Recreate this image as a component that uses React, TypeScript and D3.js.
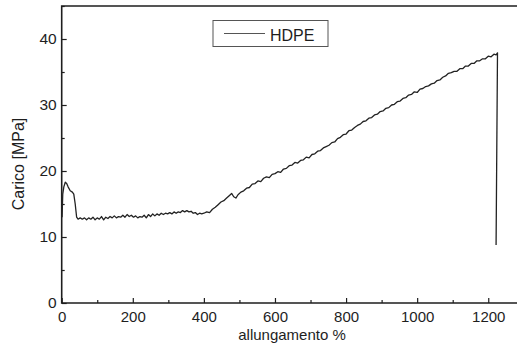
import React, { useEffect, useRef } from "react";
import * as d3 from "d3";

// Tensile curve of HDPE.
const strainPct = [
  1, 3, 6, 10, 14, 18, 24, 30, 34, 38, 42, 46, 52, 58, 64, 70, 76, 82, 88, 94,
  100, 106, 112, 118, 124, 130, 136, 142, 148, 154, 160, 166, 172, 178, 184, 190, 196, 202, 208, 214,
  220, 226, 232, 238, 244, 250, 256, 262, 268, 274, 280, 286, 292, 298, 304, 310, 316, 322, 328, 334,
  340, 346, 352, 358, 364, 370, 376, 382, 388, 394,
  400, 408, 416, 424, 432, 440, 448, 456, 464, 472, 478, 484, 490, 496, 504, 512, 520, 528, 536, 544,
  552, 560, 568, 576, 584, 592, 600, 608, 616, 624, 632, 640, 648, 656, 664, 672, 680, 688, 696, 704,
  712, 720, 728, 736, 744, 752, 760, 768, 776, 784, 792, 800, 808, 816, 824, 832, 840, 848, 856, 864,
  872, 880, 888, 896, 904, 912, 920, 928, 936, 944, 952, 960, 968, 976, 984, 992, 1000, 1008, 1016, 1024,
  1032, 1040, 1048, 1056, 1064, 1072, 1080, 1088, 1096, 1104, 1112, 1120, 1128, 1136, 1144, 1152, 1160, 1168, 1176, 1184,
  1192, 1200, 1208, 1216, 1222, 1226, 1222,
];
const loadMPa = [
  13.0, 16.5, 17.6, 18.3, 18.1, 17.6, 17.0, 16.8, 16.5, 15.0, 13.0, 12.7, 12.9, 12.7, 12.9, 12.6, 12.9, 12.7, 13.0, 12.6,
  12.9, 12.7, 13.1, 12.6, 13.0, 12.8, 13.1, 12.9, 13.2, 12.9, 13.1, 13.0, 13.3, 13.0, 13.4, 13.1, 13.3, 13.0, 13.2, 12.9,
  13.1, 13.0, 13.3, 12.9, 13.4, 13.1, 13.5, 13.2, 13.5, 13.3, 13.6, 13.4, 13.6, 13.5, 13.7, 13.5, 13.8, 13.6, 13.8, 13.7,
  14.0, 13.8, 14.0, 13.8, 13.9, 13.6, 13.7, 13.4, 13.6, 13.5,
  13.6, 13.8, 13.7, 14.2, 14.5, 14.9, 15.3, 15.5, 15.9, 16.3, 16.6, 16.1, 15.9, 16.4, 16.8, 17.0, 17.4, 17.5, 18.0, 18.1,
  18.5, 18.4, 18.9, 19.1, 19.0, 19.5, 19.6, 19.9, 19.8, 20.3, 20.4, 20.8, 20.9, 21.3, 21.2, 21.6, 21.7, 22.1, 22.0, 22.5,
  22.6, 23.0, 23.1, 23.5, 23.7, 23.9, 24.3, 24.4, 24.9, 25.1, 25.5, 25.6, 26.1, 26.2, 26.6, 26.9, 27.1, 27.5, 27.6, 28.0,
  28.1, 28.5, 28.6, 29.0, 29.1, 29.5, 29.6, 30.0, 30.1, 30.5, 30.6, 31.0, 31.1, 31.5, 31.6, 32.0, 31.9, 32.4, 32.5, 32.8,
  32.9, 33.2, 33.3, 33.7, 33.8, 34.2, 34.4, 34.8, 34.9, 35.1, 35.1, 35.5, 35.5, 35.9, 35.9, 36.3, 36.3, 36.7, 36.7, 37.0,
  37.0, 37.4, 37.3, 37.7, 37.6, 37.9, 8.8,
];

const xMajorTicks = [0, 200, 400, 600, 800, 1000, 1200];
const xMinorTicks = [100, 300, 500, 700, 900, 1100, 1300];
const yMajorTicks = [0, 10, 20, 30, 40];
const yMinorTicks = [5, 15, 25, 35, 45];

const seriesName = "HDPE";

export default function App() {
  const svgRef = useRef<SVGSVGElement>(null);

  useEffect(() => {
    if (!svgRef.current) return;
    const svg = d3.select(svgRef.current);
    svg.selectAll("*").remove();

    const W = 517, H = 349;
    const ink = "#1e1e1e";
    const font = "'Liberation Sans', Arial, Helvetica, sans-serif";

    svg.append("rect").attr("width", W).attr("height", H).attr("fill", "#ffffff");

    const x = d3.scaleLinear().domain([0, 1300]).range([61.7, 523.8]);
    const y = d3.scaleLinear().domain([0, 45]).range([303, 6]);

    // Minor ticks (inward, no labels)
    svg.append("g").attr("transform", `translate(0,${y(0)})`)
      .call(d3.axisBottom(x).tickValues(xMinorTicks).tickSize(-3).tickFormat(() => ""))
      .call(g => g.select(".domain").remove())
      .selectAll("line").attr("stroke", ink).attr("stroke-width", 1.2);
    svg.append("g").attr("transform", `translate(${x(0)},0)`)
      .call(d3.axisLeft(y).tickValues(yMinorTicks).tickSize(-3).tickFormat(() => ""))
      .call(g => g.select(".domain").remove())
      .selectAll("line").attr("stroke", ink).attr("stroke-width", 1.2);

    // Major ticks with labels
    const xAxis = svg.append("g").attr("transform", `translate(0,${y(0)})`)
      .call(d3.axisBottom(x).tickValues(xMajorTicks).tickSize(-5).tickPadding(8.5).tickFormat(d3.format("d")));
    xAxis.select(".domain").remove();
    xAxis.selectAll("line").attr("stroke", ink).attr("stroke-width", 1.2);
    xAxis.selectAll("text").attr("fill", ink).style("font-family", font).style("font-size", "15px");

    const yAxis = svg.append("g").attr("transform", `translate(${x(0)},0)`)
      .call(d3.axisLeft(y).tickValues(yMajorTicks).tickSize(-5).tickPadding(5).tickFormat(d3.format("d")));
    yAxis.select(".domain").remove();
    yAxis.selectAll("line").attr("stroke", ink).attr("stroke-width", 1.2);
    yAxis.selectAll("text").attr("fill", ink).style("font-family", font).style("font-size", "15.5px");

    // Frame (right edge falls outside the scan)
    const frame = d3.path();
    frame.moveTo(x(1300), y(45));
    frame.lineTo(x(0), y(45));
    frame.lineTo(x(0), y(0));
    frame.lineTo(x(1300), y(0));
    svg.append("path").attr("d", frame.toString()).attr("fill", "none")
      .attr("stroke", ink).attr("stroke-width", 1.6);

    // Curve
    const pts = strainPct.map((s, i) => [s, loadMPa[i]] as [number, number]);
    const line = d3.line<[number, number]>().x(d => x(d[0])).y(d => y(d[1]));
    svg.append("path").datum(pts).attr("d", line).attr("fill", "none")
      .attr("stroke", "#222").attr("stroke-width", 1.3).attr("stroke-linejoin", "round");

    // Legend
    svg.append("rect").attr("x", 213).attr("y", 20.5).attr("width", 115).attr("height", 26)
      .attr("fill", "none").attr("stroke", "#555").attr("stroke-width", 1);
    svg.append("line").attr("x1", 224).attr("x2", 265).attr("y1", 33.5).attr("y2", 33.5)
      .attr("stroke", "#555").attr("stroke-width", 1);
    svg.append("text").attr("x", 270).attr("y", 41).attr("fill", ink)
      .style("font-family", font).style("font-size", "16px").text(seriesName);

    // Axis titles
    svg.append("text").attr("x", 292).attr("y", 339.5).attr("text-anchor", "middle").attr("fill", ink)
      .style("font-family", font).style("font-size", "15px").text("allungamento %");
    svg.append("text").attr("transform", "translate(24,164) rotate(-90)").attr("text-anchor", "middle")
      .attr("fill", ink).style("font-family", font).style("font-size", "16px").text("Carico [MPa]");
  }, []);

  return (
    <svg ref={svgRef} width={517} height={349}
      style={{ position: "absolute", left: 0, top: 0, display: "block" }} />
  );
}
